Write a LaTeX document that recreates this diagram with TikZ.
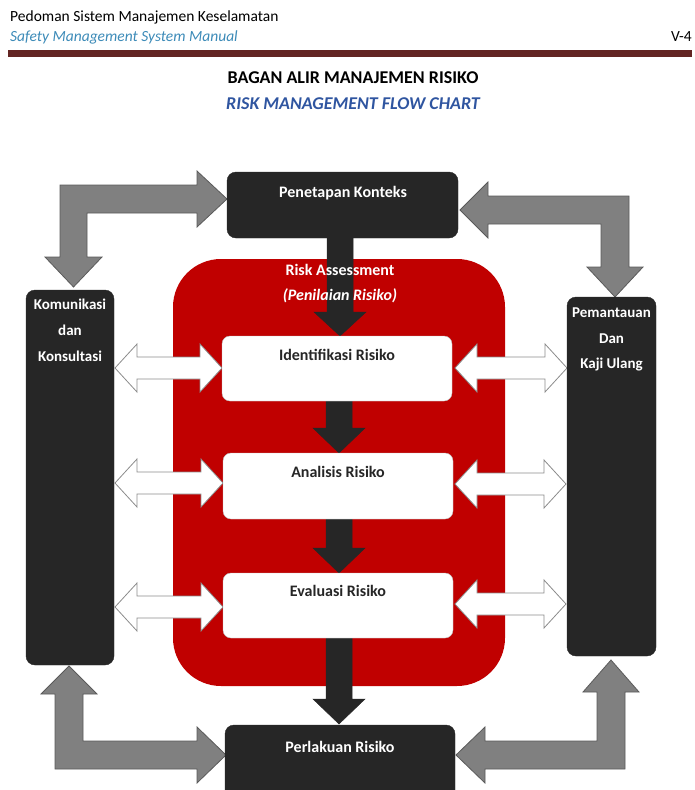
\documentclass[tikz,border=0pt]{standalone}
\usepackage{fontspec}
\setmainfont{Carlito}
\definecolor{boxdark}{HTML}{262626}
\definecolor{riskred}{HTML}{C00000}
\definecolor{arrgray}{HTML}{808080}
\definecolor{arrline}{HTML}{5A5A5A}
\definecolor{whiteline}{HTML}{8C8C8C}
\definecolor{barmaroon}{HTML}{632523}
\definecolor{hdrblue}{HTML}{3D8BB8}
\definecolor{ttlblue}{HTML}{2F55A0}
\tikzset{
  darkbox/.style={fill=boxdark, draw=boxdark, rounded corners=9pt},
  whitebox/.style={fill=white, draw=black!25, rounded corners=8pt},
  boxtext/.style={font=\fontsize{16}{19}\selectfont\bfseries, inner sep=0pt},
  graybig/.style={fill=arrgray, draw=arrline, line width=0.8pt, line join=miter},
  whitearr/.style={fill=white, draw=whiteline, line width=0.8pt, line join=miter},
  darkarr/.style={fill=boxdark, draw=boxdark, line width=0.5pt}
}
\newcommand{\DownArr}[4]{% cx, ytop, ybase, ytip
  \path[darkarr] ({#1-13},#2) -- ({#1+13},#2) -- ({#1+13},#3) -- ({#1+26},#3)
    -- (#1,#4) -- ({#1-26},#3) -- ({#1-13},#3) -- cycle;}
\newcommand{\HDblArr}[3]{% xl, xr, cy
  \path[whitearr] (#1,#3) -- ({#1+22},{#3-24}) -- ({#1+22},{#3-11}) -- ({#2-22},{#3-11})
    -- ({#2-22},{#3-24}) -- (#2,#3) -- ({#2-22},{#3+24}) -- ({#2-22},{#3+11})
    -- ({#1+22},{#3+11}) -- ({#1+22},{#3+24}) -- cycle;}
\begin{document}
\begin{tikzpicture}[x=1pt, y=-1pt]
\useasboundingbox (0,0) rectangle (694,790);
\clip (0,0) rectangle (694,790);
% header
\node[anchor=west, inner sep=0pt, font=\fontsize{15.5}{18}\selectfont] (hdr1) at (10,17) {Pedoman Sistem Manajemen Keselamatan};
\node[anchor=west, inner sep=0pt, font=\fontsize{15.5}{18}\selectfont\itshape, text=hdrblue] (hdr2) at (10,37) {Safety Management System Manual};
\node[anchor=east, inner sep=0pt, font=\fontsize{15.5}{18}\selectfont] (pg) at (692,37) {V-4};
\fill[barmaroon] (8,50) rectangle (692,57);
\node[inner sep=0pt, font=\fontsize{18}{21}\selectfont\bfseries] (ttl1) at (353,78) {BAGAN ALIR MANAJEMEN RISIKO};
\node[inner sep=0pt, font=\fontsize{18}{21}\selectfont\bfseries\itshape, text=ttlblue] (ttl2) at (353,104) {RISK MANAGEMENT FLOW CHART};

% red assessment area
\fill[riskred, rounded corners=48pt] (173,259) rectangle (505,686);

% gray elbow arrows
\path[graybig] (60,185) -- (197,185) -- (197,171) -- (227,199) -- (197,227) -- (197,213)
  -- (87,213) -- (87,257) -- (102,257) -- (73.5,287) -- (45,257) -- (60,257) -- cycle;
\path[graybig] (629,196) -- (488,196) -- (488,182) -- (460,210) -- (488,238) -- (488,224)
  -- (601,224) -- (601,267) -- (587,267) -- (615,297) -- (643,267) -- (629,267) -- cycle;
\path[graybig] (55,769) -- (197,769) -- (197,783) -- (226,755) -- (197,727) -- (197,741)
  -- (83,741) -- (83,694) -- (97,694) -- (69,666) -- (41,694) -- (55,694) -- cycle;
\path[graybig] (625,769) -- (485,769) -- (485,783) -- (456,755) -- (485,727) -- (485,741)
  -- (597,741) -- (597,692) -- (583,692) -- (611,660) -- (639,692) -- (625,692) -- cycle;

% white double arrows
\HDblArr{115}{222}{368}
\HDblArr{115}{223}{483}
\HDblArr{115}{223}{607}
\HDblArr{455}{567}{368}
\HDblArr{455}{566}{484}
\HDblArr{455}{566}{604}

% dark down arrows
\DownArr{340}{236}{312}{336}
\DownArr{339}{400}{428}{453}
\DownArr{339}{518}{548}{573}
\DownArr{339}{637}{699}{724}

% boxes
\path[darkbox] (227,172) rectangle (458,238);
\node[boxtext, text=white] (pen) at (343,193) {Penetapan Konteks};
\path[whitebox] (222,336) rectangle (452,401);
\node[boxtext, text=black!85] (idf) at (337,355) {Identifikasi Risiko};
\path[whitebox] (223,453) rectangle (453,519);
\node[boxtext, text=black!85] (ana) at (338,472) {Analisis Risiko};
\path[whitebox] (223,573) rectangle (453,638);
\node[boxtext, text=black!85] (eva) at (338,591) {Evaluasi Risiko};
\path[darkbox] (225,725) rectangle (455,810);
\node[boxtext, text=white] (per) at (340,747) {Perlakuan Risiko};
\path[darkbox] (26,290) rectangle (114,665);
\node[boxtext, text=white, font=\fontsize{15}{18}\selectfont\bfseries] (kom1) at (70,304) {Komunikasi};
\node[boxtext, text=white, font=\fontsize{15}{18}\selectfont\bfseries] (kom2) at (70,330) {dan};
\node[boxtext, text=white, font=\fontsize{15}{18}\selectfont\bfseries] (kom3) at (70,356) {Konsultasi};
\path[darkbox] (567,297) rectangle (656,656);
\node[boxtext, text=white, font=\fontsize{15}{18}\selectfont\bfseries] (pem1) at (611.5,313) {Pemantauan};
\node[boxtext, text=white, font=\fontsize{15}{18}\selectfont\bfseries] (pem2) at (611.5,339) {Dan};
\node[boxtext, text=white, font=\fontsize{15}{18}\selectfont\bfseries] (pem3) at (611.5,365) {Kaji Ulang};

% risk assessment label
\node[boxtext, text=white] (ra1) at (340,270) {Risk Assessment};
\node[boxtext, text=white, font=\fontsize{16}{19}\selectfont\bfseries\itshape] (ra2) at (340,296) {(Penilaian Risiko)};
\end{tikzpicture}
\end{document}
